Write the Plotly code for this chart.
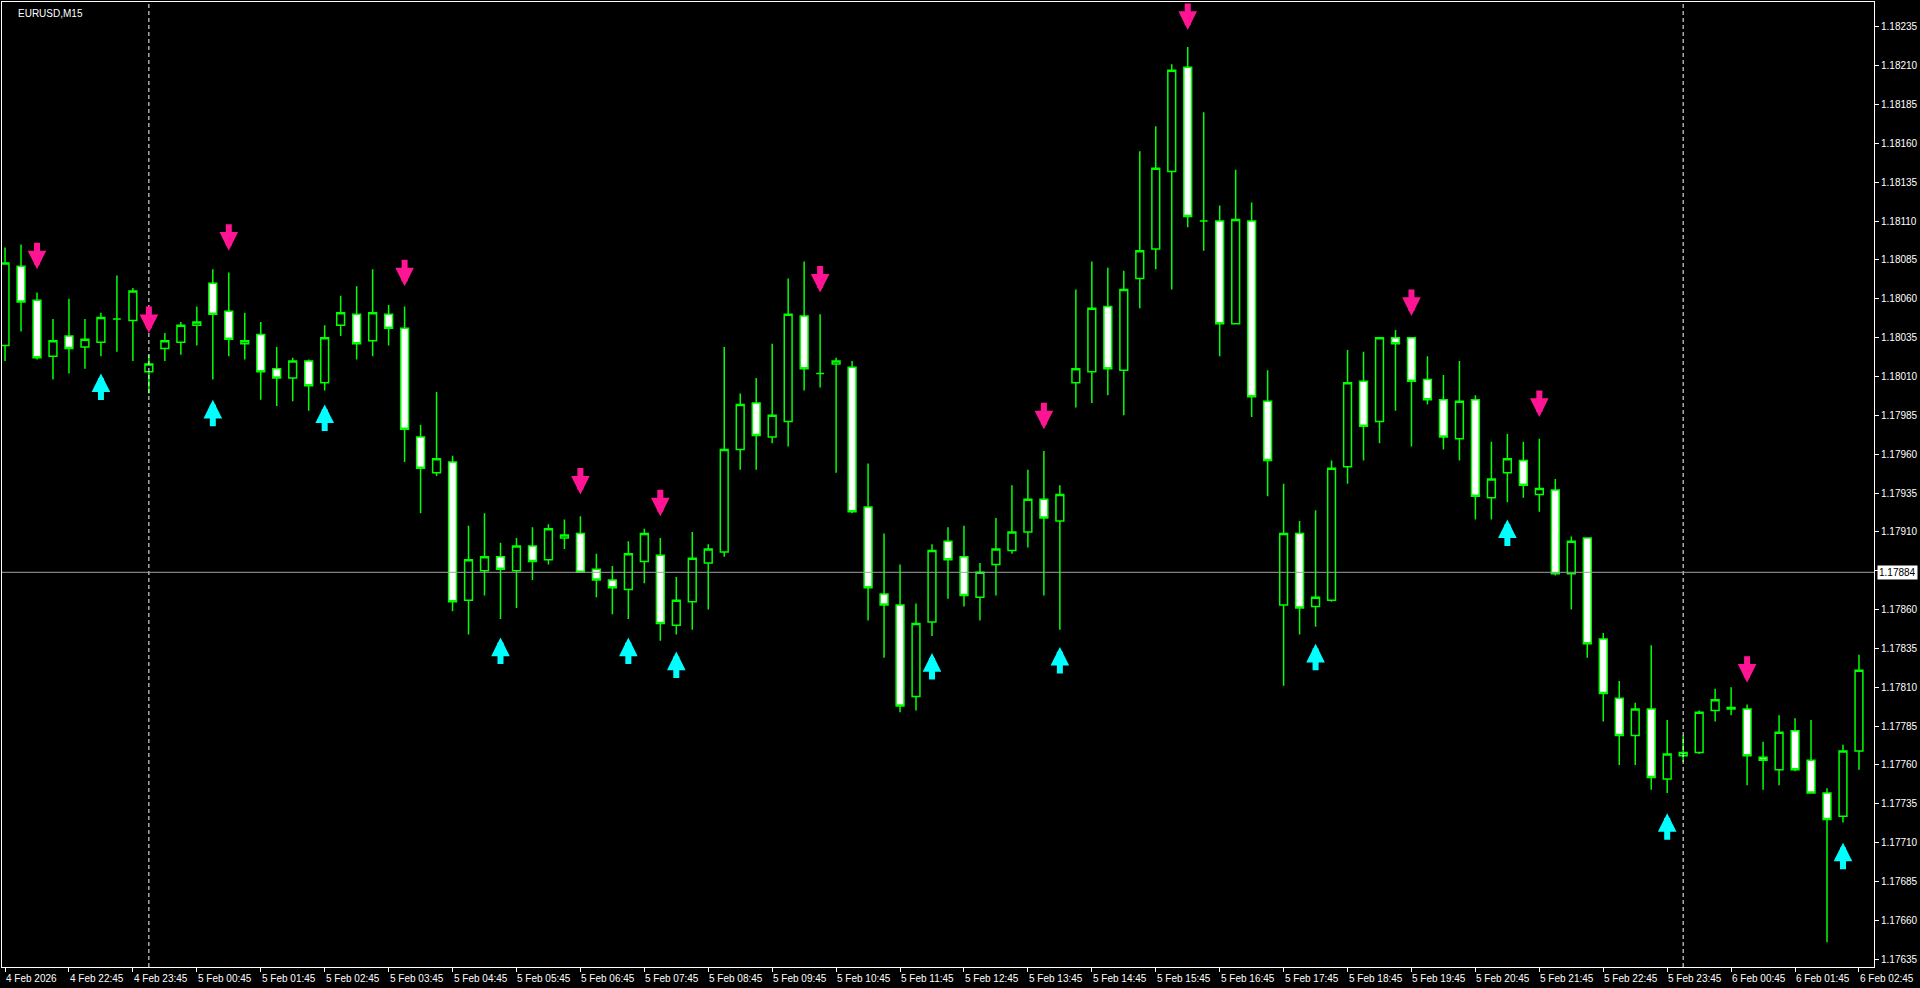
import plotly.graph_objects as go

# EURUSD M15 candles, 4 Feb 21:45 .. 6 Feb 02:45 (117 bars)
opens = [
    1.18030, 1.18081, 1.18059, 1.18023, 1.18036, 1.18029, 1.18032, 1.18047, 1.18046, 1.18013,
    1.18028, 1.18032, 1.18043, 1.18070, 1.18052, 1.18031, 1.18037, 1.18015, 1.18009, 1.18020,
    1.18006, 1.18043, 1.18050, 1.18033, 1.18050, 1.18041, 1.17971, 1.17948, 1.17955, 1.17866,
    1.17885, 1.17894, 1.17885, 1.17901, 1.17892, 1.17906, 1.17909, 1.17886, 1.17879, 1.17873,
    1.17891, 1.17895, 1.17850, 1.17865, 1.17890, 1.17897, 1.17963, 1.17993, 1.17971, 1.17981,
    1.18049, 1.18012, 1.18018, 1.18016, 1.17926, 1.17870, 1.17863, 1.17804, 1.17852, 1.17904,
    1.17894, 1.17868, 1.17889, 1.17898, 1.17910, 1.17931, 1.17917, 1.18006, 1.18013, 1.18055,
    1.18014, 1.18073, 1.18092, 1.18142, 1.18209, 1.18110, 1.18110, 1.18044, 1.18110, 1.17994,
    1.17863, 1.17909, 1.17862, 1.17866, 1.17952, 1.18007, 1.17981, 1.18035, 1.18035, 1.18008,
    1.17995, 1.17970, 1.17995, 1.17932, 1.17948, 1.17956, 1.17934, 1.17937, 1.17883, 1.17906,
    1.17841, 1.17803, 1.17779, 1.17796, 1.17751, 1.17766, 1.17768, 1.17795, 1.17797, 1.17796,
    1.17765, 1.17757, 1.17782, 1.17763, 1.17742, 1.17727, 1.17769,
]
highs = [
    1.18093, 1.18095, 1.18064, 1.18047, 1.18060, 1.18047, 1.18051, 1.18075, 1.18067, 1.18024,
    1.18038, 1.18045, 1.18055, 1.18079, 1.18077, 1.18051, 1.18045, 1.18029, 1.18022, 1.18021,
    1.18043, 1.18062, 1.18068, 1.18079, 1.18056, 1.18055, 1.17979, 1.18000, 1.17959, 1.17914,
    1.17922, 1.17903, 1.17906, 1.17913, 1.17915, 1.17918, 1.17920, 1.17896, 1.17888, 1.17904,
    1.17912, 1.17906, 1.17881, 1.17910, 1.17902, 1.18029, 1.17999, 1.18009, 1.18031, 1.18073,
    1.18084, 1.18050, 1.18022, 1.18020, 1.17954, 1.17909, 1.17889, 1.17864, 1.17902, 1.17913,
    1.17914, 1.17890, 1.17919, 1.17940, 1.17950, 1.17962, 1.17940, 1.18066, 1.18084, 1.18080,
    1.18078, 1.18155, 1.18171, 1.18211, 1.18222, 1.18180, 1.18120, 1.18143, 1.18122, 1.18014,
    1.17941, 1.17917, 1.17924, 1.17956, 1.18027, 1.18026, 1.18035, 1.18040, 1.18035, 1.18023,
    1.18011, 1.18020, 1.17998, 1.17968, 1.17973, 1.17968, 1.17970, 1.17944, 1.17907, 1.17906,
    1.17845, 1.17814, 1.17800, 1.17837, 1.17789, 1.17779, 1.17795, 1.17809, 1.17810, 1.17799,
    1.17775, 1.17792, 1.17790, 1.17789, 1.17745, 1.17773, 1.17831,
]
lows = [
    1.18020, 1.18039, 1.18021, 1.18008, 1.18012, 1.18015, 1.18023, 1.18026, 1.18020, 1.17999,
    1.18020, 1.18024, 1.18030, 1.18008, 1.18023, 1.18021, 1.17995, 1.17991, 1.17994, 1.17988,
    1.18001, 1.18036, 1.18021, 1.18023, 1.18030, 1.17955, 1.17922, 1.17946, 1.17859, 1.17844,
    1.17869, 1.17854, 1.17861, 1.17879, 1.17889, 1.17899, 1.17884, 1.17868, 1.17857, 1.17854,
    1.17877, 1.17840, 1.17844, 1.17847, 1.17860, 1.17894, 1.17950, 1.17950, 1.17967, 1.17965,
    1.18001, 1.18003, 1.17948, 1.17922, 1.17853, 1.17829, 1.17794, 1.17795, 1.17843, 1.17867,
    1.17862, 1.17853, 1.17869, 1.17896, 1.17900, 1.17869, 1.17847, 1.17990, 1.17993, 1.17998,
    1.17985, 1.18054, 1.18079, 1.18066, 1.18106, 1.18091, 1.18023, 1.18044, 1.17984, 1.17933,
    1.17811, 1.17844, 1.17849, 1.17865, 1.17941, 1.17956, 1.17967, 1.17988, 1.17965, 1.17992,
    1.17963, 1.17956, 1.17918, 1.17918, 1.17929, 1.17932, 1.17923, 1.17882, 1.17860, 1.17829,
    1.17788, 1.17760, 1.17760, 1.17744, 1.17742, 1.17762, 1.17767, 1.17788, 1.17792, 1.17747,
    1.17744, 1.17747, 1.17756, 1.17742, 1.17646, 1.17723, 1.17757,
]
closes = [
    1.18083, 1.18058, 1.18022, 1.18033, 1.18028, 1.18034, 1.18048, 1.18047, 1.18065, 1.18018,
    1.18033, 1.18043, 1.18045, 1.18050, 1.18034, 1.18033, 1.18013, 1.18009, 1.18020, 1.18004,
    1.18035, 1.18051, 1.18031, 1.18051, 1.18041, 1.17976, 1.17951, 1.17957, 1.17865, 1.17892,
    1.17894, 1.17886, 1.17901, 1.17891, 1.17912, 1.17908, 1.17884, 1.17879, 1.17874, 1.17896,
    1.17909, 1.17851, 1.17866, 1.17893, 1.17899, 1.17963, 1.17992, 1.17972, 1.17985, 1.18050,
    1.18015, 1.18012, 1.18020, 1.17923, 1.17874, 1.17863, 1.17798, 1.17851, 1.17898, 1.17892,
    1.17869, 1.17884, 1.17899, 1.17910, 1.17931, 1.17919, 1.17934, 1.18015, 1.18054, 1.18015,
    1.18066, 1.18091, 1.18144, 1.18207, 1.18113, 1.18110, 1.18044, 1.18111, 1.17997, 1.17956,
    1.17909, 1.17861, 1.17868, 1.17951, 1.18006, 1.17978, 1.18035, 1.18031, 1.18007, 1.17995,
    1.17971, 1.17994, 1.17933, 1.17944, 1.17957, 1.17940, 1.17938, 1.17883, 1.17904, 1.17838,
    1.17806, 1.17779, 1.17796, 1.17752, 1.17767, 1.17768, 1.17794, 1.17802, 1.17796, 1.17766,
    1.17763, 1.17781, 1.17757, 1.17742, 1.17725, 1.17769, 1.17821,
]

# signal arrows: bar index and price of the arrow tip
sell_bars = [2, 9, 14, 25, 36, 41, 51, 65, 74, 88, 96, 109]
sell_prices = [1.18079, 1.18038, 1.18091, 1.18068, 1.17934, 1.17920, 1.18064,
               1.17976, 1.18233, 1.18049, 1.17984, 1.17813]
buy_bars = [6, 13, 20, 31, 39, 42, 58, 66, 82, 94, 104, 115]
buy_prices = [1.18012, 1.17995, 1.17992, 1.17842, 1.17842, 1.17833, 1.17832,
              1.17836, 1.17838, 1.17918, 1.17729, 1.17710]

# hourly time labels (every 4th bar)
label_bars = list(range(0, 117, 4))
time_labels = [
    "4 Feb 2026", "4 Feb 22:45", "4 Feb 23:45", "5 Feb 00:45", "5 Feb 01:45",
    "5 Feb 02:45", "5 Feb 03:45", "5 Feb 04:45", "5 Feb 05:45", "5 Feb 06:45",
    "5 Feb 07:45", "5 Feb 08:45", "5 Feb 09:45", "5 Feb 10:45", "5 Feb 11:45",
    "5 Feb 12:45", "5 Feb 13:45", "5 Feb 14:45", "5 Feb 15:45", "5 Feb 16:45",
    "5 Feb 17:45", "5 Feb 18:45", "5 Feb 19:45", "5 Feb 20:45", "5 Feb 21:45",
    "5 Feb 22:45", "5 Feb 23:45", "6 Feb 00:45", "6 Feb 01:45", "6 Feb 02:45",
]
day_separators = [9, 105]
bid_price = 1.17884

GREEN = "#00FF00"
FONT = dict(family="Liberation Sans", size=10, color="#FFFFFF")

bars = list(range(len(opens)))

fig = go.Figure()
fig.add_trace(go.Candlestick(
    x=bars, open=opens, high=highs, low=lows, close=closes,
    increasing=dict(line=dict(color=GREEN, width=1.5), fillcolor="#000000"),
    decreasing=dict(line=dict(color=GREEN, width=1.5), fillcolor="#FFFFFF"),
    whiskerwidth=0, showlegend=False, hoverinfo="skip",
))

for b, p in zip(sell_bars, sell_prices):
    fig.add_annotation(x=b, y=p, ax=0, ay=-28, text="", showarrow=True,
                       arrowhead=2, arrowwidth=6, arrowsize=0.62,
                       arrowcolor="#FF1493")
for b, p in zip(buy_bars, buy_prices):
    fig.add_annotation(x=b, y=p, ax=0, ay=28, text="", showarrow=True,
                       arrowhead=2, arrowwidth=6, arrowsize=0.62,
                       arrowcolor="#00FFFF")

for b, t in zip(label_bars, time_labels):
    fig.add_annotation(x=b, xref="x", y=0, yref="paper", yshift=-4,
                       text=t, showarrow=False, xanchor="left", yanchor="top",
                       xshift=-1, font=FONT)

for s in day_separators:
    fig.add_shape(type="line", x0=s, x1=s, y0=0, y1=1, yref="paper",
                  line=dict(color="#FFFFFF", width=1, dash="4px,3px"))

fig.add_shape(type="line", x0=0, x1=1, xref="paper", y0=bid_price, y1=bid_price,
              line=dict(color="#A0A0A0", width=1))
fig.add_annotation(x=1, xref="paper", y=bid_price, text=f"{bid_price:.5f}",
                   showarrow=False, xanchor="left", xshift=3, borderpad=1,
                   bgcolor="#FFFFFF", font=dict(family="Liberation Sans", size=10, color="#000000"))

fig.add_annotation(x=0, xref="paper", y=1, yref="paper", text="EURUSD,M15",
                   showarrow=False, xanchor="left", yanchor="top", xshift=14, yshift=-4,
                   font=FONT)

fig.update_layout(
    width=1920, height=988,
    paper_bgcolor="#000000", plot_bgcolor="#000000",
    margin=dict(l=2, r=46, t=2, b=21),
    font=FONT,
    xaxis=dict(range=[-0.19, 116.94], showgrid=False, zeroline=False,
               rangeslider=dict(visible=False), tickvals=label_bars,
               ticks="outside", ticklen=4, tickcolor="#FFFFFF", showticklabels=False,
               showline=True, linecolor="#FFFFFF", mirror=True),
    yaxis=dict(range=[1.17630, 1.18251], side="right", showgrid=False, zeroline=False,
               tick0=1.17635, dtick=0.00025, tickformat=".5f",
               ticks="outside", ticklen=4, tickcolor="#FFFFFF",
               showline=True, linecolor="#FFFFFF", mirror=True),
)

fig.write_html(
    "out.html",
    config={"displayModeBar": False},
    post_script="document.body.style.margin='0';document.body.style.overflow='hidden';",
)
